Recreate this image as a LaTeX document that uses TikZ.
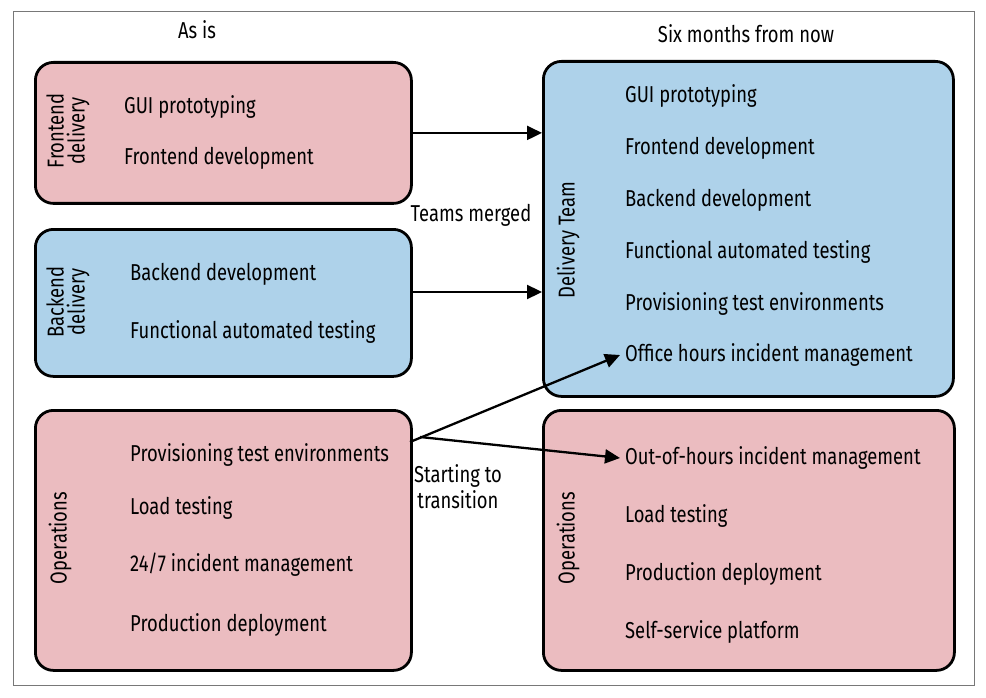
\documentclass[tikz,border=0pt]{standalone}
\usepackage{fontspec}
\setmainfont[FakeStretch=0.8]{Fira Sans}
\usetikzlibrary{arrows.meta}
\definecolor{pinkc}{RGB}{235,188,192}
\definecolor{bluec}{RGB}{174,210,234}
\definecolor{framec}{RGB}{120,120,120}
\begin{document}
\begin{tikzpicture}[x=1pt,y=-1pt,
  box/.style={draw=black, line width=2.8pt, rounded corners=18pt, anchor=north west, inner sep=0pt},
  item/.style={anchor=west, inner sep=0pt, font=\fontsize{23}{26}\selectfont},
  lab/.style={rotate=90, align=center, inner sep=0pt, font=\fontsize{23}{21}\selectfont},
  head/.style={inner sep=0pt, font=\fontsize{23}{26}\selectfont},
  arr/.style={-{Triangle[length=15pt,width=14pt]}, line width=2.3pt}]
\useasboundingbox (0,0) rectangle (986,698);
\draw[framec, line width=1pt] (13,12) rectangle (974,685);
% headers
\node[head] (asis) at (197,30) {As is};
\node[head] (six) at (746,34) {Six months from now};
% frontend
\node[box, fill=pinkc, minimum width=376pt, minimum height=141pt] (fe) at (34,61) {};
\node[lab] (fel) at (68,131) {Frontend\\delivery};
\node[item] (fe1) at (124,107) {GUI prototyping};
\node[item] (fe2) at (124,158) {Frontend development};
% backend
\node[box, fill=bluec, minimum width=376pt, minimum height=147pt] (be) at (34,228) {};
\node[lab] (bel) at (68,302) {Backend\\delivery};
\node[item] (be1) at (130,274) {Backend development};
\node[item] (be2) at (130,332) {Functional automated testing};
% operations left
\node[box, fill=pinkc, minimum width=376pt, minimum height=260pt] (opl) at (34,409) {};
\node[lab] (opll) at (60,538) {Operations};
\node[item] (op1) at (130,455) {Provisioning test environments};
\node[item] (op2) at (130,508) {Load testing};
\node[item] (op3) at (130,565) {24/7 incident management};
\node[item] (op4) at (130,625) {Production deployment};
% delivery team
\node[box, fill=bluec, minimum width=410pt, minimum height=335pt] (dt) at (542,60) {};
\node[lab] (dtl) at (568,240) {Delivery Team};
\node[item] (dt1) at (625,96) {GUI prototyping};
\node[item] (dt2) at (625,148) {Frontend development};
\node[item] (dt3) at (625,200) {Backend development};
\node[item] (dt4) at (625,252) {Functional automated testing};
\node[item] (dt5) at (625,304) {Provisioning test environments};
\node[item] (dt6) at (625,355) {Office hours incident management};
% operations right
\node[box, fill=pinkc, minimum width=411pt, minimum height=260pt] (opr) at (542,409) {};
\node[lab] (oprl) at (568,538) {Operations};
\node[item] (or1) at (625,458) {Out-of-hours incident management};
\node[item] (or2) at (625,516) {Load testing};
\node[item] (or3) at (625,574) {Production deployment};
\node[item] (or4) at (625,632) {Self-service platform};
% labels
\node[head] (tm) at (471,215) {Teams merged};
\node[head, align=center] (st) at (458,487) {Starting to\\transition};
% arrows
\coordinate (s1) at (410,442);
\coordinate (s2) at (420,437);
\draw[arr] (fe.east) -- (dt.west |- fe.east);
\draw[arr] (410,292) coordinate (b0) -- (dt.west |- b0);
\draw[arr] (s1) -- ([xshift=-5pt]dt6.west);
\draw[arr] (s2) -- ([xshift=-5pt]or1.west);
\end{tikzpicture}
\end{document}
